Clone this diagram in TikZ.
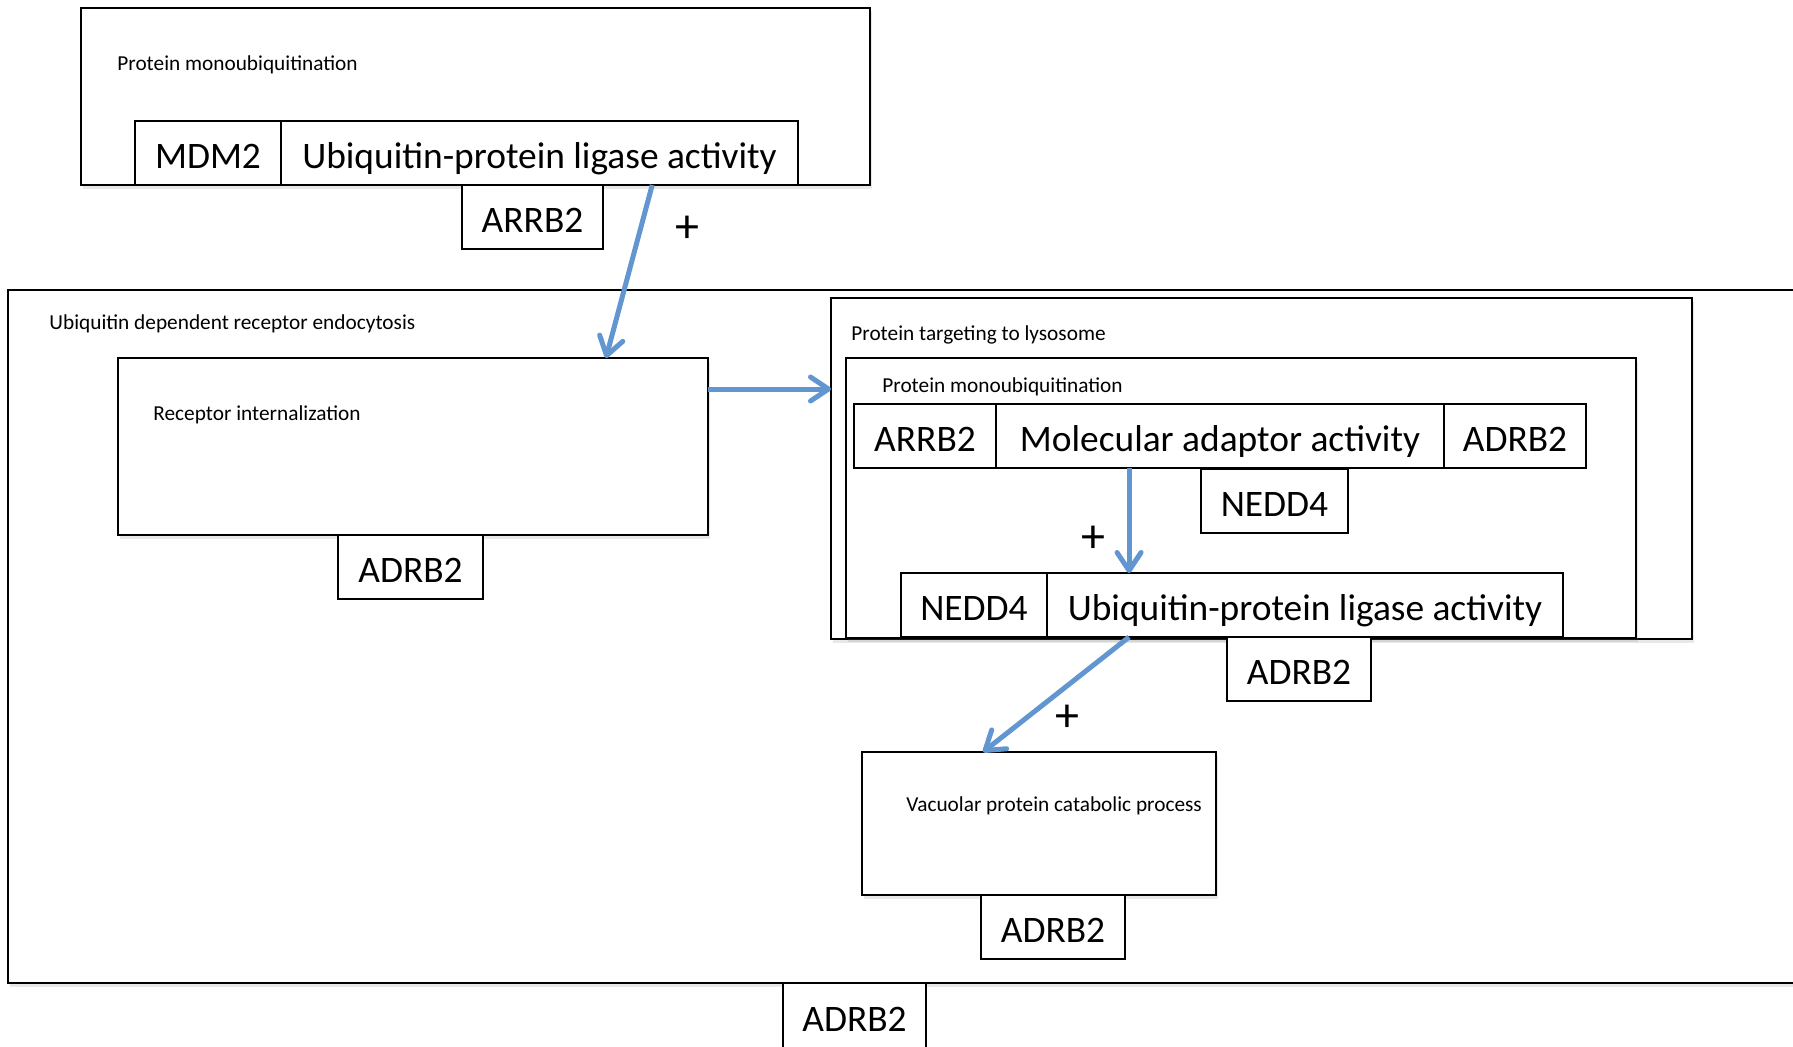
\documentclass[tikz,border=0pt]{standalone}
\usepackage{fontspec}
\setmainfont{Carlito}
\usetikzlibrary{arrows.meta,positioning,calc,shadows}
\definecolor{arrowblue}{HTML}{6196D0}
\tikzset{
  procbox/.style={
    rectangle, draw=black, line width=0.9pt, fill=white,
    outer sep=0pt, inner sep=0pt, anchor=north west,
    drop shadow={shadow xshift=1pt, shadow yshift=-2pt, opacity=0.18}
  },
  genebox/.style={
    rectangle, draw=black, line width=0.8pt, fill=white,
    outer sep=0pt, inner sep=0pt, minimum height=32pt,
    text height=15pt, text depth=0pt,
    font=\fontsize{18.7}{21}\selectfont
  },
  proclabel/.style={anchor=west, inner sep=0pt, font=\fontsize{10.65}{13}\selectfont},
  plussign/.style={inner sep=0pt, font=\fontsize{24}{26}\selectfont},
  effarrow/.style={-{Straight Barb[length=9pt,width=12pt,round]}, line width=2.5pt, arrowblue}
}

\begin{document}
\begin{tikzpicture}[x=0.5pt,y=-0.5pt]
\useasboundingbox (0,0) rectangle (1793,1046);
\clip (0,0) rectangle (1793,1046);

% upstream monoubiquitination
\node[procbox, minimum width=394.5pt, minimum height=88.5pt] (monoA) at (81,8) {};
\node[proclabel] (monoAlbl) at (117,65) {Protein monoubiquitination};
\node[genebox, minimum width=73pt, anchor=north west] (mdm2) at (135,121) {MDM2};
\node[genebox, minimum width=258.5pt, right=0pt of mdm2] (ligA) {Ubiquitin-protein ligase activity};
\node[genebox, minimum width=70.5pt, below=0pt of ligA, xshift=-3.5pt] (arrbA) {ARRB2};
\node[plussign] (plusA) at (687,229) {+};

% endocytosis
\node[procbox, minimum width=900pt, minimum height=346.5pt] (endo) at (8,290) {};
\node[proclabel] (endolbl) at (49,324) {Ubiquitin dependent receptor endocytosis};
\node[procbox, minimum width=295pt, minimum height=88.5pt] (recint) at (118,358) {};
\node[proclabel] (recintlbl) at (153,415) {Receptor internalization};
\node[genebox, minimum width=72.5pt, below=0pt of recint, xshift=-1.25pt] (adrbA) {ADRB2};

% lysosome targeting
\node[procbox, minimum width=430.5pt, minimum height=170.5pt] (target) at (831,298) {};
\node[proclabel] (targetlbl) at (851,335) {Protein targeting to lysosome};
\node[procbox, minimum width=395pt, minimum height=140pt] (monoB) at (846,358) {};
\node[proclabel] (monoBlbl) at (882,387) {Protein monoubiquitination};
\node[genebox, minimum width=71pt, anchor=north west] (arrbB) at (854,404) {ARRB2};
\node[genebox, minimum width=224pt, right=0pt of arrbB] (adaptor) {Molecular adaptor activity};
\node[genebox, minimum width=71pt, right=0pt of adaptor] (adrbB) {ADRB2};
\node[genebox, minimum width=73.5pt, anchor=north west] (nedd4A) at (1201,469) {NEDD4};
\node[plussign] (plusB) at (1093,539) {+};
\node[genebox, minimum width=73pt, anchor=north west] (nedd4B) at (901,573) {NEDD4};
\node[genebox, minimum width=258pt, right=0pt of nedd4B] (ligB) {Ubiquitin-protein ligase activity};
\node[genebox, minimum width=72pt, below=0pt of ligB, xshift=-3pt] (adrbC) {ADRB2};

% vacuolar catabolism
\node[plussign] (plusC) at (1067,718) {+};
\node[procbox, minimum width=177pt, minimum height=71.5pt] (vacuo) at (862,752) {};
\node[proclabel] (vacuolbl) at (906,806) {Vacuolar protein catabolic process};
\node[genebox, minimum width=72pt, below=0pt of vacuo, xshift=7pt] (adrbD) {ADRB2};
\node[genebox, minimum width=71.5pt, minimum height=33pt, anchor=north west] (adrbE) at (783,983) {ADRB2};

% regulation arrows
\coordinate (ligAout) at ($(ligA.south west)!0.718!(ligA.south east)$);
\coordinate (recintin) at ($(recint.north west)!0.827!(recint.north east)$);
\draw[effarrow] (ligAout) -- (recintin);
\draw[effarrow] ([yshift=-15.5pt]recint.north east) -- ([yshift=-15.5pt]recint.north east -| target.west);
\coordinate (adaptout) at ($(adaptor.south west)!0.297!(adaptor.south east)$);
\draw[effarrow] (adaptout) -- (adaptout |- ligB.north);
\coordinate (ligBout) at ($(ligB.south west)!0.159!(ligB.south east)$);
\coordinate (vacuoin) at ($(vacuo.north west)!0.342!(vacuo.north east)$);
\draw[effarrow] (ligBout) -- (vacuoin);
\end{tikzpicture}
\end{document}
